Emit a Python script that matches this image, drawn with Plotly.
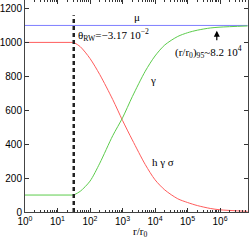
import plotly.graph_objects as go

# r/r0 sample points
r_flat = [1, 31.6]
r_pts = [31.6, 50, 100, 200, 500, 1000, 2000, 5000, 1e4, 2e4, 5e4, 1e5, 2e5, 5e5, 1e6, 7e6]
# h*gamma*sigma (red)
hgs_flat = [1000, 1000]
hgs = [1000, 975, 905, 810, 663, 540, 425, 280, 190, 130, 78, 56, 38, 21, 13, 4]
# gamma (green)
gam_flat = [100, 100]
gam = [100, 122, 182, 288, 450, 555, 680, 830, 920, 985, 1035, 1057, 1072, 1085, 1090, 1097]
# mu (blue)
mu_x = [1, 7e6]
mu_y = [1100, 1100]
# theta_RW position
theta_x = [31.6, 31.6]
theta_y = [0, 1160]

x_ticks = [1, 10, 100, 1e3, 1e4, 1e5, 1e6]
x_ticktext = ["10<sup>0</sup>", "10<sup>1</sup>", "10<sup>2</sup>", "10<sup>3</sup>",
              "10<sup>4</sup>", "10<sup>5</sup>", "10<sup>6</sup>"]
y_ticks = [0, 200, 400, 600, 800, 1000, 1200]
minor_vals = [m * 10 ** d for d in range(0, 7) for m in range(2, 10)]

red = "#ff5c5c"
green = "#5ccc4c"

fig = go.Figure()
fig.add_trace(go.Scatter(x=mu_x, y=mu_y, mode="lines", line=dict(color="#7f7fff", width=1)))
fig.add_trace(go.Scatter(x=r_flat, y=hgs_flat, mode="lines", line=dict(color=red, width=1)))
fig.add_trace(go.Scatter(x=r_pts, y=hgs, mode="lines", line=dict(color=red, width=1, shape="spline", smoothing=0.8)))
fig.add_trace(go.Scatter(x=r_flat, y=gam_flat, mode="lines", line=dict(color=green, width=1)))
fig.add_trace(go.Scatter(x=r_pts, y=gam, mode="lines", line=dict(color=green, width=1, shape="spline", smoothing=0.8)))
fig.add_trace(go.Scatter(x=theta_x, y=theta_y, mode="lines",
                         line=dict(color="#222222", width=2.5, dash="4px,3px")))

serif = dict(family="Liberation Serif", size=11, color="black")
fig.add_annotation(x=3.45, y=1147, xref="x", yref="y", text="μ", showarrow=False, font=serif)
fig.add_annotation(x=1.58, y=1041, xref="x", yref="y", xanchor="left",
                   text="θ<sub>RW</sub>=−3.17 10<sup>−2</sup>", showarrow=False, font=serif)
fig.add_annotation(x=5.65, y=941, xref="x", yref="y",
                   text="(r/r<sub>0</sub>)<sub>95</sub>~8.2 10<sup>4</sup>", showarrow=False, font=serif)
fig.add_annotation(x=5.9, y=1068, xref="x", yref="y", text="", showarrow=True,
                   ax=0, ay=11, arrowhead=2, arrowsize=1, arrowwidth=1.2, arrowcolor="black")
fig.add_annotation(x=3.94, y=776, xref="x", yref="y", text="γ", showarrow=False, font=serif)
fig.add_annotation(x=4.25, y=294, xref="x", yref="y", text="h γ σ", showarrow=False, font=serif)
fig.add_annotation(x=0.516, y=-0.095, xref="paper", yref="paper", yanchor="middle",
                   text="r/r<sub>0</sub>", showarrow=False, font=serif)

fig.update_layout(
    width=249, height=247,
    margin=dict(l=25, r=1, t=0, b=35, autoexpand=False),
    paper_bgcolor="white", plot_bgcolor="white",
    showlegend=False,
    font=dict(family="Liberation Sans", size=10, color="black"),
)
fig.update_xaxes(type="log", range=[0, 6.86], tickvals=x_ticks, ticktext=x_ticktext,
                 ticks="inside", ticklen=4, tickcolor="#333", showgrid=False, automargin=False,
                 showline=True, linecolor="#444", linewidth=1, mirror="allticks",
                 zeroline=False,
                 minor=dict(tickvals=minor_vals, ticks="inside", ticklen=2, tickcolor="#333"))
fig.update_yaxes(range=[0, 1250], tickvals=y_ticks, ticks="inside", ticklen=4, tickcolor="#333",
                 showgrid=False, showline=True, linecolor="#444", linewidth=1, mirror="allticks",
                 zeroline=False, ticklabelstandoff=0, automargin=False)

fig.write_html("out.html", config={"displayModeBar": False},
               post_script="document.body.style.margin='0';")
